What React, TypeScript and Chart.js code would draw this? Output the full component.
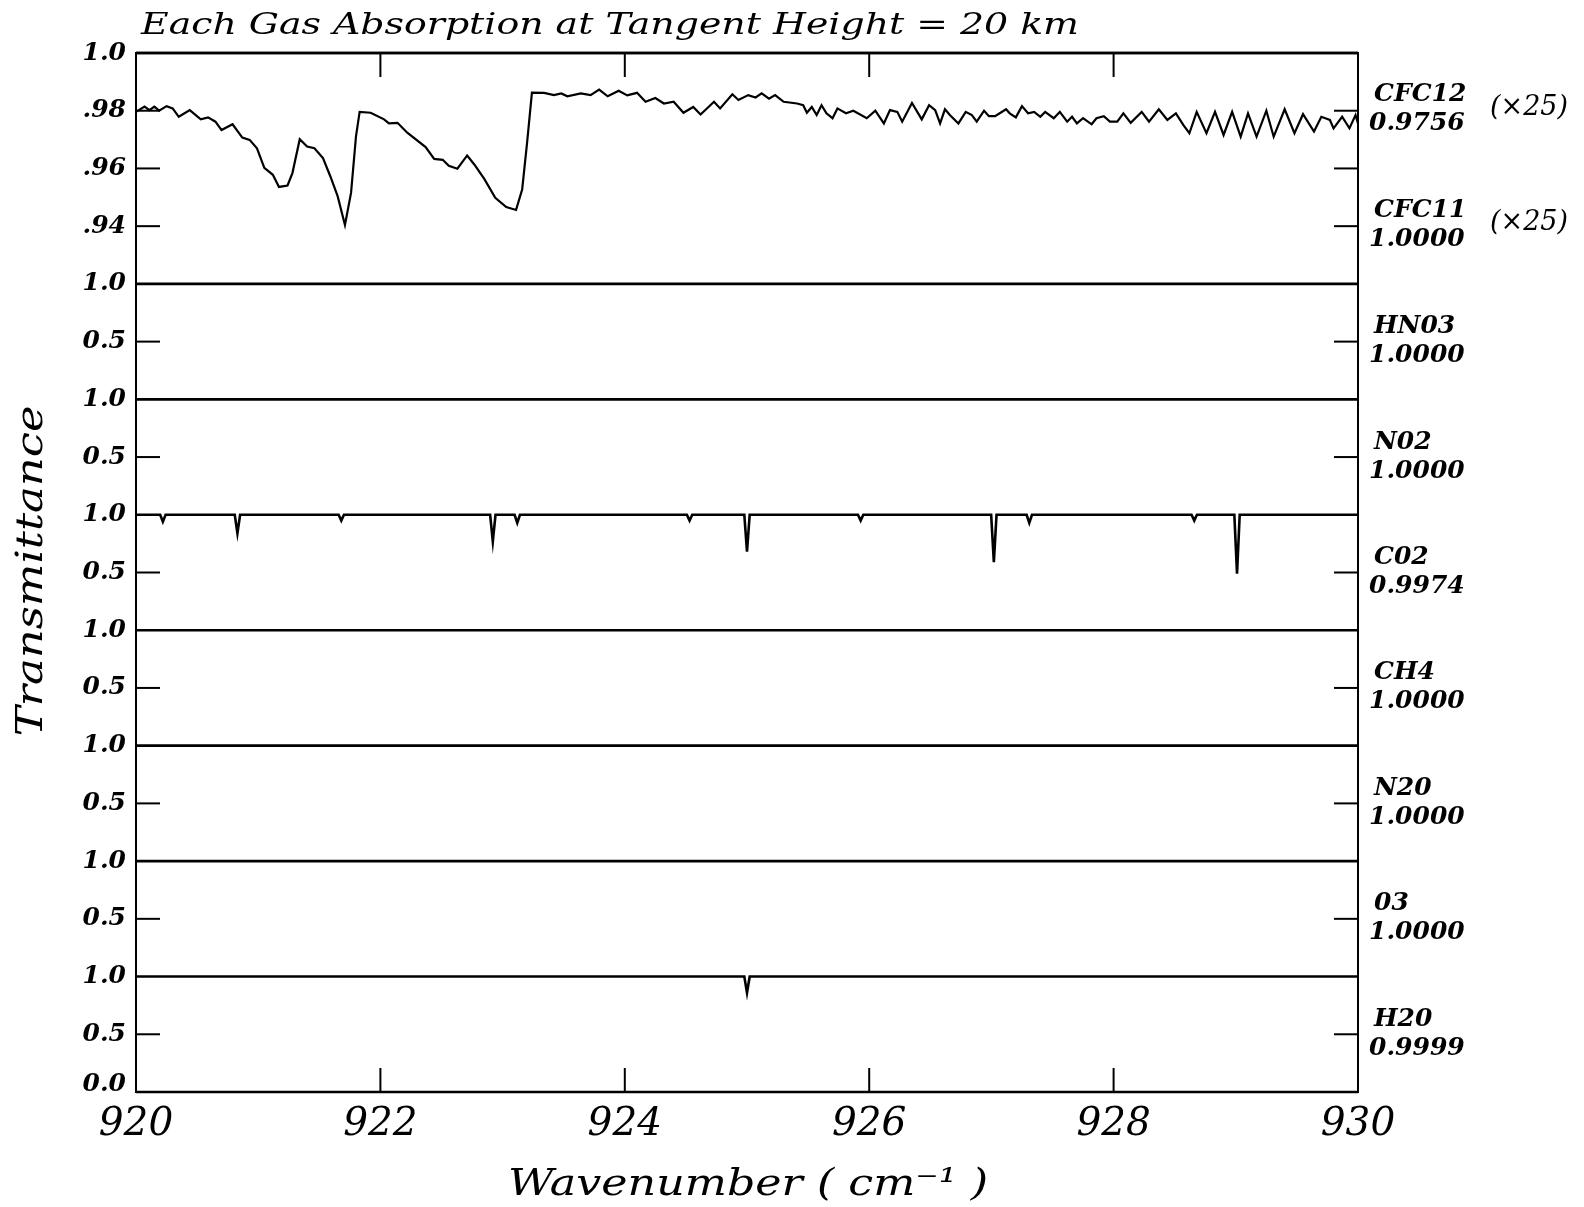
import React, { useEffect, useRef } from 'react';
import { Chart, registerables } from 'chart.js';

Chart.register(...registerables);

// Wavenumber range (cm^-1) and axis ticks
const WN_MIN = 920;
const WN_MAX = 930;
const xTickValues = [920, 922, 924, 926, 928, 930];
const xInnerTicks = [922, 924, 926, 928];

// CFC12 transmittance (absorption scaled x25)
const cfc12Wavenumber = [
  920.0, 920.07, 920.11, 920.15, 920.19, 920.25, 920.3, 920.35, 920.44, 920.53,
  920.59, 920.65, 920.7, 920.79, 920.87, 920.93, 920.99, 921.05, 921.12, 921.17,
  921.24, 921.28, 921.34, 921.4, 921.46, 921.53, 921.59, 921.65, 921.71, 921.76,
  921.8, 921.83, 921.92, 922.03, 922.07, 922.14, 922.22, 922.37, 922.44, 922.51,
  922.56, 922.63, 922.71, 922.77, 922.85, 922.94, 923.03, 923.11, 923.16, 923.2,
  923.24, 923.34, 923.42, 923.48, 923.53, 923.64, 923.72, 923.79, 923.86, 923.95,
  924.02, 924.1, 924.17, 924.25, 924.32, 924.4, 924.48, 924.56, 924.62, 924.73,
  924.78, 924.88, 924.93, 925.01, 925.07, 925.12, 925.18, 925.23, 925.3, 925.41,
  925.46, 925.49, 925.53, 925.57, 925.61, 925.65, 925.7, 925.74, 925.81, 925.87,
  925.98, 926.05, 926.12, 926.17, 926.23, 926.27, 926.35, 926.43, 926.49, 926.54,
  926.58, 926.62, 926.66, 926.73, 926.79, 926.84, 926.88, 926.94, 926.98, 927.03,
  927.12, 927.15, 927.2, 927.25, 927.3, 927.35, 927.4, 927.44, 927.51, 927.56,
  927.62, 927.66, 927.7, 927.75, 927.82, 927.86, 927.92, 927.97, 928.03, 928.08,
  928.14, 928.23, 928.29, 928.37, 928.44, 928.51, 928.57, 928.62, 928.68, 928.76,
  928.83, 928.9, 928.97, 929.04, 929.1, 929.17, 929.25, 929.31, 929.4, 929.48,
  929.55, 929.64, 929.7, 929.77, 929.8, 929.87, 929.93, 929.98, 930.0,
];
const cfc12Transmittance = [
  0.9796, 0.9814, 0.9802, 0.9814, 0.98, 0.9816, 0.9808, 0.9779, 0.9802, 0.977,
  0.9777, 0.9762, 0.9733, 0.9753, 0.9707, 0.9699, 0.967, 0.9602, 0.9578, 0.9536,
  0.9541, 0.9584, 0.9701, 0.9676, 0.967, 0.9636, 0.9573, 0.9504, 0.9404, 0.9516,
  0.971, 0.9796, 0.9793, 0.977, 0.9756, 0.9758, 0.9724, 0.9674, 0.9633, 0.963,
  0.9609, 0.9599, 0.9645, 0.9613, 0.9564, 0.9498, 0.9466, 0.9456, 0.9527, 0.9688,
  0.9863, 0.9862, 0.9854, 0.986, 0.985, 0.986, 0.9854, 0.9873, 0.985, 0.9869,
  0.9853, 0.9862, 0.9831, 0.9844, 0.9825, 0.9831, 0.9793, 0.9813, 0.9787, 0.9831,
  0.9808, 0.9857, 0.9837, 0.9854, 0.9846, 0.986, 0.9842, 0.9854, 0.9831, 0.9825,
  0.9819, 0.9793, 0.9813, 0.9785, 0.9819, 0.9791, 0.9774, 0.9808, 0.9791, 0.98,
  0.9774, 0.98, 0.9756, 0.9802, 0.9796, 0.9762, 0.9827, 0.977, 0.9819, 0.9802,
  0.9756, 0.9805, 0.9785, 0.9756, 0.9796, 0.9785, 0.9762, 0.98, 0.9781, 0.9781,
  0.9805, 0.9791, 0.9777, 0.9816, 0.9791, 0.9796, 0.9779, 0.9796, 0.9774, 0.9796,
  0.9762, 0.9779, 0.9756, 0.9774, 0.9753, 0.9774, 0.9781, 0.9762, 0.9762, 0.9791,
  0.9758, 0.9796, 0.9762, 0.9805, 0.9768, 0.9791, 0.9751, 0.9722, 0.9796, 0.9722,
  0.9796, 0.9716, 0.9796, 0.971, 0.9791, 0.971, 0.98, 0.971, 0.9805, 0.9722,
  0.9788, 0.9728, 0.9779, 0.9768, 0.9739, 0.9779, 0.9739, 0.9785, 0.9756,
];

// CO2 absorption lines: centre wavenumber and minimum transmittance
const co2LineCenters = [920.22, 920.83, 921.68, 922.92, 923.12, 924.53, 925.0, 925.93, 927.02, 927.31, 928.66, 929.01];
const co2LineMinima = [0.94, 0.84, 0.95, 0.77, 0.93, 0.95, 0.68, 0.95, 0.59, 0.93, 0.95, 0.49];

// H2O absorption line
const h2oLineCenters = [925.0];
const h2oLineMinima = [0.86];

// Panel labels (right side)
const gasNames = ['HN03', 'N02', 'C02', 'CH4', 'N20', '03', 'H20'];
const gasTransmittance = ['1.0000', '1.0000', '0.9974', '1.0000', '1.0000', '1.0000', '0.9999'];
const cfcNames = ['CFC12', 'CFC11'];
const cfcTransmittance = ['0.9756', '1.0000'];
const cfcLabelTicks = [0.98, 0.94];
const cfcScaleLabel = '(×25)';

// Top panel axis
const cfcAxisMin = 0.92;
const cfcAxisMax = 1.0;
const cfcTicks = [0.98, 0.96, 0.94];
const cfcTickLabels = ['.98', '.96', '.94'];

const panelIds = ['yCFC', 'yHNO3', 'yNO2', 'yCO2', 'yCH4', 'yN2O', 'yO3', 'yH2O'];

const SERIF = '"DejaVu Serif", "Liberation Serif", serif';

type Pt = { x: number; y: number };

function flatSpectrum(): Pt[] {
  return [{ x: WN_MIN, y: 1 }, { x: WN_MAX, y: 1 }];
}

function lineSpectrum(centers: number[], minima: number[]): Pt[] {
  const half = 0.022;
  const pts: Pt[] = [{ x: WN_MIN, y: 1 }];
  centers.forEach((c, i) => {
    pts.push({ x: c - half, y: 1 }, { x: c, y: minima[i] }, { x: c + half, y: 1 });
  });
  pts.push({ x: WN_MAX, y: 1 });
  return pts;
}

function fillFitted(ctx: CanvasRenderingContext2D, text: string, x: number, y: number, width?: number) {
  const w = ctx.measureText(text).width;
  const sx = width ? width / w : 1;
  ctx.save();
  ctx.translate(x, y);
  ctx.scale(sx, 1);
  ctx.fillText(text, 0, 0);
  ctx.restore();
}

const framePlugin = {
  id: 'spectrumFrame',
  afterDraw(chart: any) {
    const ctx: CanvasRenderingContext2D = chart.ctx;
    const ca = chart.chartArea;
    const xs = chart.scales.x;
    const seg = (x1: number, y1: number, x2: number, y2: number) => {
      ctx.beginPath();
      ctx.moveTo(x1, y1);
      ctx.lineTo(x2, y2);
      ctx.stroke();
    };
    ctx.save();
    ctx.strokeStyle = '#000';
    ctx.fillStyle = '#000';

    // frame
    ctx.lineWidth = 2;
    seg(ca.left, ca.top - 1, ca.left, ca.bottom + 1);
    seg(ca.right, ca.top - 1, ca.right, ca.bottom + 1);
    ctx.lineWidth = 2.5;
    seg(ca.left, ca.top, ca.right, ca.top);
    seg(ca.left, ca.bottom, ca.right, ca.bottom);

    // x ticks top and bottom
    ctx.lineWidth = 2;
    const tickLen = 24;
    xInnerTicks.forEach((v) => {
      const px = xs.getPixelForValue(v);
      seg(px, ca.top, px, ca.top + tickLen);
      seg(px, ca.bottom, px, ca.bottom - tickLen);
    });

    // y ticks
    const yc = chart.scales.yCFC;
    cfcTicks.forEach((v) => {
      const py = yc.getPixelForValue(v);
      seg(ca.left, py, ca.left + tickLen, py);
      seg(ca.right, py, ca.right - tickLen, py);
    });
    panelIds.slice(1).forEach((id) => {
      const py = chart.scales[id].getPixelForValue(0.5);
      seg(ca.left, py, ca.left + tickLen, py);
      seg(ca.right, py, ca.right - tickLen, py);
    });

    // left tick labels
    ctx.font = `italic bold 25px ${SERIF}`;
    ctx.textAlign = 'right';
    ctx.textBaseline = 'middle';
    const lx = ca.left - 10;
    ctx.fillText('1.0', lx, yc.getPixelForValue(1.0));
    cfcTicks.forEach((v, i) => ctx.fillText(cfcTickLabels[i], lx, yc.getPixelForValue(v)));
    panelIds.slice(1).forEach((id) => {
      const s = chart.scales[id];
      ctx.fillText('1.0', lx, s.getPixelForValue(1.0));
      ctx.fillText('0.5', lx, s.getPixelForValue(0.5));
    });
    ctx.fillText('0.0', lx, chart.scales.yH2O.getPixelForValue(0) - 8);

    // right panel labels
    ctx.textAlign = 'left';
    ctx.font = `italic bold 25px ${SERIF}`;
    cfcNames.forEach((name, i) => {
      const py = yc.getPixelForValue(cfcLabelTicks[i]);
      ctx.fillText(name, ca.right + 16, py - 16);
      ctx.fillText(cfcTransmittance[i], ca.right + 11, py + 13);
    });
    gasNames.forEach((name, i) => {
      const py = chart.scales[panelIds[i + 1]].getPixelForValue(0.5);
      ctx.fillText(name, ca.right + 16, py - 15);
      ctx.fillText(gasTransmittance[i], ca.right + 11, py + 14);
    });
    ctx.font = `italic 27px ${SERIF}`;
    cfcLabelTicks.forEach((v) => {
      const py = yc.getPixelForValue(v);
      ctx.fillText(cfcScaleLabel, ca.right + 132, py - 3);
    });

    // x tick labels
    ctx.textAlign = 'center';
    ctx.textBaseline = 'alphabetic';
    ctx.font = `italic 39px ${SERIF}`;
    xTickValues.forEach((v) => {
      ctx.fillText(String(v), xs.getPixelForValue(v), ca.bottom + 43);
    });

    // title
    ctx.textAlign = 'left';
    ctx.font = `italic 30px ${SERIF}`;
    fillFitted(ctx, 'Each Gas Absorption at Tangent Height = 20 km', 141, 34, 938);

    // x axis title
    ctx.font = `italic 38px ${SERIF}`;
    fillFitted(ctx, 'Wavenumber ( cm⁻¹ )', 508, 1195, 480);

    // y axis title
    ctx.save();
    ctx.translate(42, 571);
    ctx.rotate(-Math.PI / 2);
    ctx.textAlign = 'center';
    ctx.font = `italic 38px ${SERIF}`;
    const tw = ctx.measureText('Transmittance').width;
    ctx.scale(331 / tw, 1);
    ctx.fillText('Transmittance', 0, 0);
    ctx.restore();

    ctx.restore();
  },
};

export default function App() {
  const canvasRef = useRef<HTMLCanvasElement | null>(null);

  useEffect(() => {
    const canvas = canvasRef.current;
    if (!canvas) return;

    const lineStyle = { borderColor: '#000', borderWidth: 2.2, pointRadius: 0, tension: 0, fill: false, clip: false as const };

    const gasData: Pt[][] = gasNames.map((_, i) => {
      if (i === 2) return lineSpectrum(co2LineCenters, co2LineMinima);
      if (i === 6) return lineSpectrum(h2oLineCenters, h2oLineMinima);
      return flatSpectrum();
    });

    const datasets: any[] = [
      {
        label: cfcNames[0],
        yAxisID: 'yCFC',
        data: cfc12Wavenumber.map((x, i) => ({ x, y: cfc12Transmittance[i] })),
        ...lineStyle,
      },
      { label: cfcNames[1], yAxisID: 'yCFC', data: flatSpectrum(), ...lineStyle, borderWidth: 2.6 },
      ...gasNames.map((name, i) => ({
        label: name,
        yAxisID: panelIds[i + 1],
        data: gasData[i],
        ...lineStyle,
        borderWidth: 2.6,
      })),
    ];

    const scales: any = {
      x: { type: 'linear', min: WN_MIN, max: WN_MAX, display: false },
      yCFC: {
        type: 'linear', position: 'left', stack: 'panels', stackWeight: 2, weight: 8,
        min: cfcAxisMin, max: cfcAxisMax, display: false,
      },
    };
    panelIds.slice(1).forEach((id, i) => {
      scales[id] = {
        type: 'linear', position: 'left', stack: 'panels', stackWeight: 1, weight: 7 - i,
        min: 0, max: 1, display: false,
      };
    });

    const chart = new Chart(canvas, {
      type: 'line',
      data: { datasets },
      options: {
        responsive: false,
        animation: false,
        parsing: false,
        normalized: true,
        layout: { padding: { left: 136, right: 1584 - 1358, top: 53, bottom: 1207 - 1092 } },
        plugins: { legend: { display: false }, tooltip: { enabled: false }, title: { display: false } },
        events: [],
        scales,
      },
      plugins: [framePlugin],
    });

    return () => chart.destroy();
  }, []);

  return (
    <div style={{ position: 'absolute', left: 0, top: 0, width: 1584, height: 1207, background: '#fff' }}>
      <canvas ref={canvasRef} width={1584} height={1207} style={{ display: 'block' }} />
    </div>
  );
}
